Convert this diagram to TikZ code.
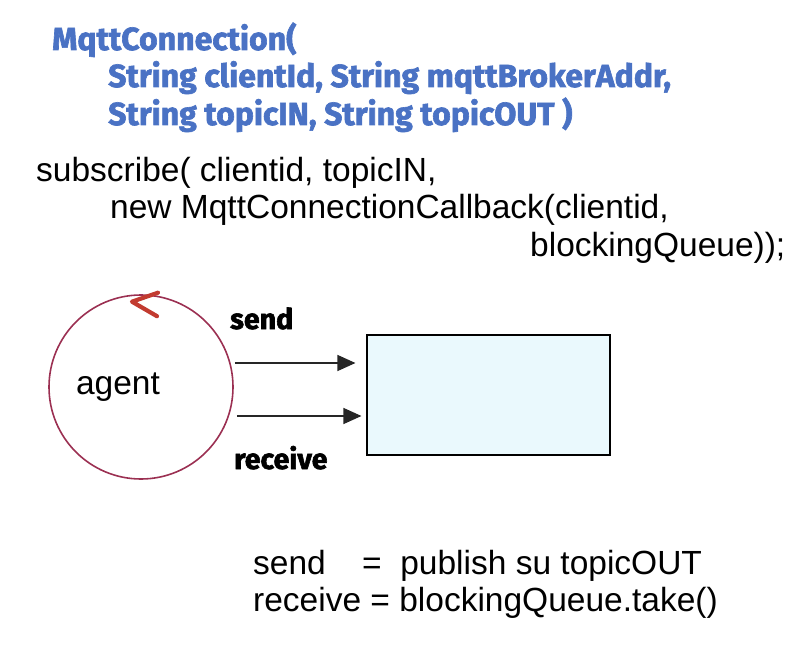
\documentclass[tikz,border=0pt]{standalone}
\usepackage{fontspec}
\setmainfont{Liberation Sans}
\newfontfamily\handfont{Fira Sans}[BoldFeatures={FakeBold=2}]
\usetikzlibrary{positioning, arrows.meta}

\definecolor{ctorblue}{HTML}{4A72C4}
\definecolor{agentred}{HTML}{9B3052}
\definecolor{markred}{HTML}{C23B30}
\definecolor{queuefill}{HTML}{EAF9FD}

\begin{document}
\begin{tikzpicture}[x=1pt, y=-1pt, font=\fontsize{33.5}{38}\selectfont,
  ctor/.style={anchor=base west, inner sep=0pt, text=ctorblue, font=\handfont\bfseries\fontsize{32}{37}\selectfont},
  codeline/.style={anchor=base west, inner sep=0pt},
  flowtag/.style={anchor=base west, inner sep=0pt, font=\handfont\bfseries\fontsize{28.5}{33}\selectfont},
  agentcircle/.style={circle, draw=agentred, line width=1.6pt, minimum size=184pt, inner sep=0pt},
  queuebox/.style={rectangle, draw=black, line width=1.1pt, fill=queuefill, minimum width=243pt, minimum height=120pt},
  redmark/.style={draw=markred, line width=4.2pt, line cap=round, line join=round},
  arrow/.style={-{Triangle[length=18pt, width=16pt]}, line width=1.2pt, black!85}
]
\useasboundingbox (0,0) rectangle (807,650);

% constructor
\node[ctor] (ctor1) at (52,50) {MqttConnection(};
\node[ctor] (ctor2) at (108,87) {String clientId, String mqttBrokerAddr,};
\node[ctor] (ctor3) at (108,125) {String topicIN, String topicOUT )};

% subscribe call
\node[codeline] (sub1) at (36,182) {subscribe( clientid, topicIN,};
\node[codeline] (sub2) at (110,219) {new MqttConnectionCallback(clientid,};
\node[codeline] (sub3) at (530,257) {blockingQueue));};

% agent and queue
\node[agentcircle] (agent) at (141,387) {};
\node (agentlbl) at ([shift={(-23,0)}]agent.center) {agent};
\draw[redmark] ([shift={(17,-1.5)}]agent.north) -- ([shift={(-9,7.5)}]agent.north) -- ([shift={(16,22)}]agent.north);

\node[queuebox] (queue) at (488.5,395) {};

\coordinate (sendfrom) at ([shift={(1,-24)}]agent.east);
\coordinate (recvfrom) at ([shift={(3,29)}]agent.east);
\draw[arrow, shorten >=11pt] (sendfrom) -- (sendfrom -| queue.west);
\draw[arrow, shorten >=5pt] (recvfrom) -- (recvfrom -| queue.west);

\node[flowtag] (sendtag) at (230,329) {send};
\node[flowtag] (recvtag) at (234,469) {receive};

% legend
\node[codeline] (legend1) at (253,574) {\makebox[109pt][l]{send}=\ \ publish su topicOUT};
\node[codeline] (legend2) at (253,611) {receive = blockingQueue.take()};

\end{tikzpicture}
\end{document}
